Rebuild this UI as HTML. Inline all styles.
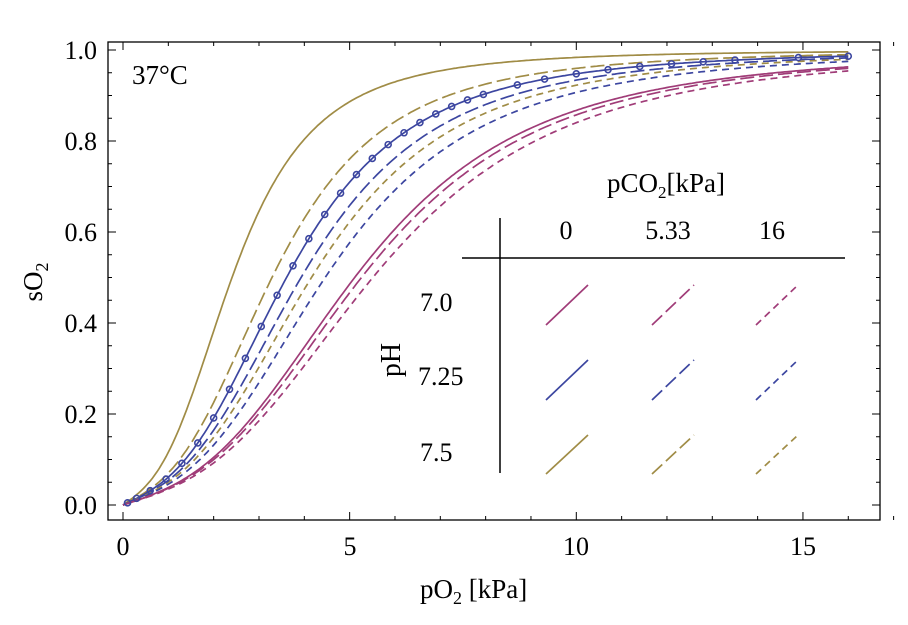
<!DOCTYPE html>
<html><head><meta charset="utf-8"><style>
body{margin:0;background:#fff}
text{font-family:"Liberation Serif","DejaVu Serif",serif;fill:#000}
</style></head><body>
<svg id="s" width="908" height="620" xmlns="http://www.w3.org/2000/svg" font-family="Liberation Serif, serif">
<rect x="108" y="42" width="772" height="478" fill="none" stroke="#000" stroke-width="1.3"/>
<g id="ticks" stroke="#000" stroke-width="1"></g>
<g id="curves" fill="none" stroke-width="1.7"></g>
<g font-size="26">
<text x="123" y="555" text-anchor="middle">0</text>
<text x="350" y="555" text-anchor="middle">5</text>
<text x="576" y="555" text-anchor="middle">10</text>
<text x="803" y="555" text-anchor="middle">15</text>
<text x="97" y="514" text-anchor="end">0.0</text>
<text x="97" y="423" text-anchor="end">0.2</text>
<text x="97" y="332" text-anchor="end">0.4</text>
<text x="97" y="241" text-anchor="end">0.6</text>
<text x="97" y="150" text-anchor="end">0.8</text>
<text x="97" y="59" text-anchor="end">1.0</text>
</g>
<text x="420" y="598" font-size="27">pO<tspan font-size="18" dy="6">2</tspan><tspan dy="-6"> [kPa]</tspan></text>
<text transform="translate(42,282) rotate(-90)" font-size="27" text-anchor="middle">sO<tspan font-size="18" dy="6">2</tspan></text>
<text x="132" y="84" font-size="27">37°C</text>
<text x="607" y="192" font-size="27">pCO<tspan font-size="17" dy="6">2</tspan><tspan dy="-6">[kPa]</tspan></text>
<text x="566" y="239" font-size="26" text-anchor="middle">0</text>
<text x="668" y="239" font-size="26" text-anchor="middle">5.33</text>
<text x="772" y="239" font-size="26" text-anchor="middle">16</text>
<text x="420" y="311" font-size="26">7.0</text>
<text x="418" y="385" font-size="26">7.25</text>
<text x="420" y="461" font-size="26">7.5</text>
<text transform="translate(400,360) rotate(-90)" font-size="28" text-anchor="middle">pH</text>
<line x1="462" y1="258" x2="845" y2="258" stroke="#000" stroke-width="1.5"/>
<line x1="500" y1="218" x2="500" y2="473" stroke="#000" stroke-width="1.5"/>
<g id="leg" stroke-width="1.7"></g>
</svg>
<script>
var X=function(v){return 123+v*45.33},Y=function(v){return 505-v*455};
var ns="http://www.w3.org/2000/svg";
function el(p,n,a){var e=document.createElementNS(ns,n);for(var k in a)e.setAttribute(k,a[k]);document.getElementById(p).appendChild(e);return e;}
for(var i=0;i<=17;i++){var x=X(i);var L=i%5==0?8:4;el("ticks","line",{x1:x,y1:520,x2:x,y2:520-L});el("ticks","line",{x1:x,y1:42,x2:x,y2:42+L});}
for(var j=0;j<=20;j++){var y=Y(j*0.05);var L=j%4==0?8:4;if(y<42)continue;el("ticks","line",{x1:108,y1:y,x2:108+L,y2:y});el("ticks","line",{x1:880,y1:y,x2:880-L,y2:y});}
var col={r:"#a03c78",b:"#3c46a0",y:"#a08c46"};
var dash=["", "14 5", "7 5"];
var curves=[["y",0,2.4],["y",1,3.28],["b",0,3.6],["b",1,3.92],["y",2,4.15],["b",2,4.45],["r",0,5.1],["r",1,5.25],["r",2,5.5]];
function s(x,p){var t=x*26.8/p;var a=t*t*t+150*t;return a/(a+23400);}
curves.forEach(function(c){var d="";for(var x=0;x<=16.001;x+=0.05){d+=(x==0?"M":"L")+X(x).toFixed(1)+","+Y(s(x,c[2])).toFixed(1);}
el("curves","path",{d:d,stroke:col[c[0]],"stroke-dasharray":dash[c[1]]});});
var pts=[0.1,0.3];for(var x=0.6;x<=8.01;x+=0.35)pts.push(x);pts=pts.concat([8.7,9.3,10,10.7,11.4,12.1,12.8,13.5,14.9,16]);
pts.forEach(function(x){el("curves","circle",{cx:X(x),cy:Y(s(x,3.6)),r:3,stroke:col.b,"stroke-width":1.6});});
var cx=[546,652,756],cy=[[col.r,285,325],[col.b,360,400],[col.y,435,474]];
cy.forEach(function(r){cx.forEach(function(x,k){el("leg","line",{x1:x,y1:r[2],x2:x+42,y2:r[1],stroke:r[0],"stroke-dasharray":dash[k]});});});
</script>
</body></html>
